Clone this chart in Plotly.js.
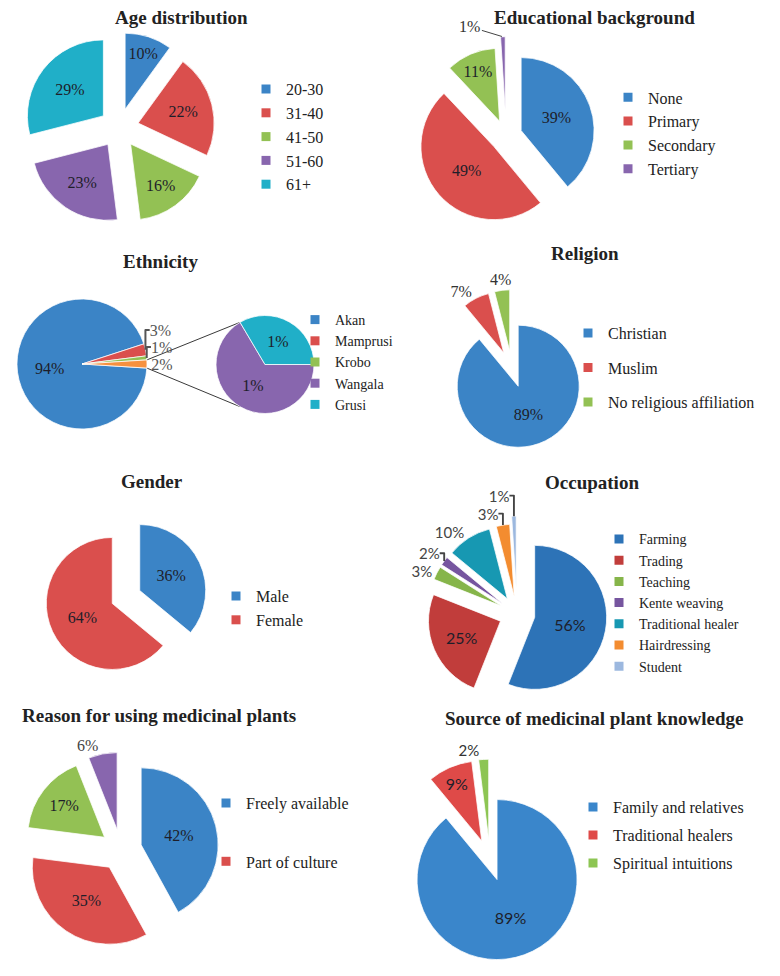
<!DOCTYPE html>
<html><head><meta charset="utf-8">
<script src="https://cdn.plot.ly/plotly-3.0.1.min.js"></script>
<style>html,body{margin:0;padding:0;background:#fff}#chart{width:780px;height:976px}</style>
</head><body><div id="chart"></div>
<script>
// ---------------- DATA ----------------
const ageLabels = ['20-30', '31-40', '41-50', '51-60', '61+'];
const ageValues = [10, 22, 16, 23, 29];

const eduLabels = ['None', 'Primary', 'Secondary', 'Tertiary'];
const eduValues = [39, 49, 11, 1];

const ethLabels = ['Akan', 'Mamprusi', 'Krobo', 'Wangala', 'Grusi'];
const ethValues = [94, 3, 1, 1.33, 0.67];

const relLabels = ['Christian', 'Muslim', 'No religious affiliation'];
const relValues = [89, 7, 4];

const genLabels = ['Male', 'Female'];
const genValues = [36, 64];

const occLabels = ['Farming', 'Trading', 'Teaching', 'Kente weaving', 'Traditional healer', 'Hairdressing', 'Student'];
const occValues = [56, 25, 3, 2, 10, 3, 1];

const reaLegendLabels = ['Freely available', 'Part of culture'];
const reaValues = [42, 35, 17, 6];

const srcLabels = ['Family and relatives', 'Traditional healers', 'Spiritual intuitions'];
const srcValues = [89, 9, 2];

const titles = ['Age distribution', 'Educational background', 'Ethnicity', 'Religion', 'Gender', 'Occupation',
                'Reason for using medicinal plants', 'Source of medicinal plant knowledge'];

// ---------------- STYLE ----------------
const C = {blue:'#3b84c6', red:'#da4f4d', green:'#93c154', purple:'#8866ae', cyan:'#20afc8', orange:'#f6913f'};
const ageColors = [C.blue, C.red, C.green, C.purple, C.cyan];
const eduColors = [C.blue, C.red, C.green, C.purple];
const ethColors = [C.blue, C.red, C.green, C.purple, C.cyan];
const ethOtherColor = C.orange;
const relColors = [C.blue, C.red, C.green];
const genColors = [C.blue, C.red];
const occColors = ['#2d73b7', '#c13d3b', '#86b54a', '#76559f', '#1798b2', '#f38c30', '#9cb8df'];
const reaColors = [C.blue, C.red, C.green, C.purple];
const srcColors = ['#3a86cb', '#df4a48', '#8dc553'];

const W = 780, H = 976;
const SERIF = 'Liberation Serif, DejaVu Serif, serif';
const SANS = 'Lato, Liberation Sans, sans-serif';
const d2r = Math.PI / 180;

function px2x(x) { return x / W; }
function px2y(y) { return 1 - y / H; }
function dom(cx, cy, half) { return {x: [px2x(cx - half), px2x(cx + half)], y: [px2y(cy + half), px2y(cy - half)]}; }
function pctText(v) { return Math.round(v) + '%'; }

function pie(o) {
  const n = o.values.length;
  const pull = Array.isArray(o.pull) ? o.pull : new Array(n).fill(o.pull || 0);
  const pos = Array.isArray(o.pos) ? o.pos : new Array(n).fill(o.pos || 'inside');
  const maxPull = Math.max(0, ...pull);
  const t = {
    type: 'pie', sort: false, direction: 'clockwise', rotation: o.rotation || 0,
    values: o.values, text: o.values.map(pctText), textinfo: 'text',
    textposition: pos, insidetextorientation: 'horizontal', pull: pull,
    marker: {colors: o.colors, line: {color: 'rgba(255,255,255,0.75)', width: 1}},
    domain: dom(o.cx, o.cy, o.r * (1 + maxPull)),
    showlegend: false, hoverinfo: 'skip',
    insidetextfont: o.inFont || {family: SERIF, size: 16, color: '#1e1e2a'},
    outsidetextfont: o.outFont || {family: SERIF, size: 16, color: '#333'}
  };
  if (o.labels) t.labels = o.labels;
  return t;
}

// outer tip of slice i of a clockwise pie starting at 12 o'clock (geometry of the pie above)
function sliceTip(values, i, g, extra) {
  const tot = values.reduce((a, b) => a + b, 0);
  const before = values.slice(0, i).reduce((a, b) => a + b, 0);
  const ang = 360 * (before + values[i] / 2) / tot * d2r;
  const dist = g.r * (1 + g.pull) + (extra || 0);
  return [g.cx + dist * Math.sin(ang), g.cy - dist * Math.cos(ang)];
}

function legendTraces(labels, colors, id) {
  return labels.map((l, i) => ({
    type: 'scatter', x: [null], y: [null], mode: 'markers', name: l,
    marker: {symbol: 'square', size: 9, color: colors[i]},
    legend: id, legendgroup: id + '_' + i, showlegend: true, hoverinfo: 'skip'
  }));
}

// textX: left edge of legend text; firstY: centre of first entry; step: wanted distance between entries
function leg(textX, firstY, size, step) {
  const h = Math.max(size * 1.3, 16) + 3;
  return {
    x: px2x(textX - 40), y: px2y(firstY - h / 2 - 5), xanchor: 'left', yanchor: 'top',
    xref: 'paper', yref: 'paper', bgcolor: 'rgba(0,0,0,0)', borderwidth: 0,
    font: {family: SERIF, size: size, color: '#222'},
    traceorder: 'grouped', tracegroupgap: Math.max(0, step - h)
  };
}

// ---------------- PIES ----------------
const ethOther = ethValues[3] + ethValues[4];
const ethMainValues = [ethValues[0], ethValues[1], ethValues[2], ethOther];
const ethTotal = ethMainValues.reduce((a, b) => a + b, 0);
const ethMainRot = 90 + 180 * ethOther / ethTotal;   // "other" slice centred at 3 o'clock
const M = {cx: 82, cy: 364, r: 65};
const S = {cx: 265, cy: 364.5, r: 49};
const EDU = {cx: 506, cy: 136, r: 73};
const REL = {cx: 512, cy: 369, r: 61, pull: 0.3};

const traces = [
  pie({labels: ageLabels, values: ageValues, colors: ageColors, cx: 119, cy: 128, r: 76, pull: 0.26}),
  pie({labels: eduLabels, values: eduValues, colors: eduColors, cx: EDU.cx, cy: EDU.cy, r: EDU.r,
       pull: [0.22, 0.22, 0.22, 0.36], pos: ['inside', 'inside', 'inside', 'none']}),
  pie({labels: ['Akan', 'Mamprusi', 'Krobo', 'Other'], values: ethMainValues,
       colors: [ethColors[0], ethColors[1], ethColors[2], ethOtherColor],
       cx: M.cx, cy: M.cy, r: M.r, rotation: ethMainRot,
       pos: ['inside', 'outside', 'outside', 'outside'],
       outFont: {family: SERIF, size: 16, color: '#555'}}),
  pie({labels: ethLabels.slice(3), values: ethValues.slice(3), colors: ethColors.slice(3),
       cx: S.cx, cy: S.cy, r: S.r, rotation: 90}),
  pie({labels: relLabels, values: relValues, colors: relColors, cx: REL.cx, cy: REL.cy, r: REL.r, pull: REL.pull,
       pos: ['inside', 'outside', 'none']}),
  pie({labels: genLabels, values: genValues, colors: genColors, cx: 126, cy: 597, r: 66, pull: 0.23}),
  pie({labels: occLabels, values: occValues, colors: occColors, cx: 517, cy: 614, r: 72,
       pull: [0.25, 0.25, 0.25, 0.25, 0.25, 0.25, 0.36],
       pos: ['inside', 'inside', 'outside', 'outside', 'outside', 'outside', 'outside'],
       inFont: {family: SANS, size: 16, color: '#1e1e2a'},
       outFont: {family: SANS, size: 15, color: '#444'}}),
  pie({values: reaValues, colors: reaColors, cx: 121, cy: 850, r: 77, pull: 0.27,
       pos: ['inside', 'inside', 'inside', 'outside'],
       outFont: {family: SERIF, size: 16, color: '#444'}}),
  pie({labels: srcLabels, values: srcValues, colors: srcColors, cx: 490, cy: 860, r: 80, pull: 0.26,
       pos: ['inside', 'inside', 'outside'],
       inFont: {family: SANS, size: 16, color: '#1e1e2a'},
       outFont: {family: SANS, size: 15, color: '#333'}})
];

traces.push(...legendTraces(ageLabels, ageColors, 'legend'));
traces.push(...legendTraces(eduLabels, eduColors, 'legend2'));
traces.push(...legendTraces(ethLabels, ethColors, 'legend3'));
traces.push(...legendTraces(relLabels, relColors, 'legend4'));
traces.push(...legendTraces(genLabels, genColors, 'legend5'));
traces.push(...legendTraces(occLabels, occColors, 'legend6'));
traces.push(...legendTraces(reaLegendLabels, reaColors, 'legend7'));
traces.push(...legendTraces(srcLabels, srcColors, 'legend8'));

// connector lines of the pie-of-pie (Ethnicity)
const aTop = 90 - 180 * ethOther / ethTotal, aBot = 90 + 180 * ethOther / ethTotal;
const sTop = 90 + 360 * ethValues[3] / ethOther, sBot = 540 - sTop;
function pt(c, a) { return [c.cx + c.r * Math.sin(a * d2r), c.cy - c.r * Math.cos(a * d2r)]; }
const p1 = pt(M, aTop), p2 = pt(S, sTop), p3 = pt(M, aBot), p4 = pt(S, sBot);
const shapes = [[p1, p2], [p3, p4]].map(([a, b]) => ({
  type: 'line', xref: 'paper', yref: 'paper', layer: 'below',
  x0: px2x(a[0]), y0: px2y(a[1]), x1: px2x(b[0]), y1: px2y(b[1]),
  line: {color: '#3a3a3a', width: 1}
}));

// titles
const titlePos = [[181, 17], [594, 17], [160, 261], [585, 253], [152, 481], [592, 482], [159, 715], [594, 718]];
const annotations = titles.map((t, i) => ({
  text: '<b>' + t + '</b>', x: px2x(titlePos[i][0]), y: px2y(titlePos[i][1]),
  xref: 'paper', yref: 'paper', xanchor: 'center', yanchor: 'middle', showarrow: false,
  font: {family: SERIF, size: 19, color: '#222'}
}));

// data label of the thin "Tertiary" slice, with leader line (as in the original)
const eduTip = sliceTip(eduValues, 3, {cx: EDU.cx, cy: EDU.cy, r: EDU.r, pull: 0.36});
annotations.push({
  text: pctText(eduValues[3]), x: px2x(eduTip[0]), y: px2y(eduTip[1]), xref: 'paper', yref: 'paper',
  showarrow: true, arrowhead: 0, arrowwidth: 1, arrowcolor: '#444', standoff: 1, ax: -33, ay: -10,
  font: {family: SERIF, size: 16, color: '#333'}
});
// label of the "No religious affiliation" slice just above its tip
const relTip = sliceTip(relValues, 2, REL, 11);
annotations.push({
  text: pctText(relValues[2]), x: px2x(relTip[0]), y: px2y(relTip[1]), xref: 'paper', yref: 'paper',
  showarrow: false, xanchor: 'center', yanchor: 'middle',
  font: {family: SERIF, size: 16, color: '#333'}
});

const layout = {
  width: W, height: H, margin: {l: 0, r: 0, t: 0, b: 0},
  paper_bgcolor: '#fff', plot_bgcolor: 'rgba(0,0,0,0)',
  xaxis: {visible: false, range: [0, 1], fixedrange: true},
  yaxis: {visible: false, range: [0, 1], fixedrange: true},
  showlegend: true,
  legend: leg(286, 89, 16, 0),
  legend2: leg(648, 97.3, 16, 0),
  legend3: leg(335, 319.6, 14, 0),
  legend4: leg(608, 333, 16, 34.5),
  legend5: leg(256, 596, 16, 0),
  legend6: leg(639, 539, 14, 0),
  legend7: leg(246, 803, 16, 58.3),
  legend8: leg(613, 807, 16, 28),
  shapes: shapes,
  annotations: annotations
};

Plotly.newPlot('chart', traces, layout, {displayModeBar: false, staticPlot: true});
</script>
</body></html>
